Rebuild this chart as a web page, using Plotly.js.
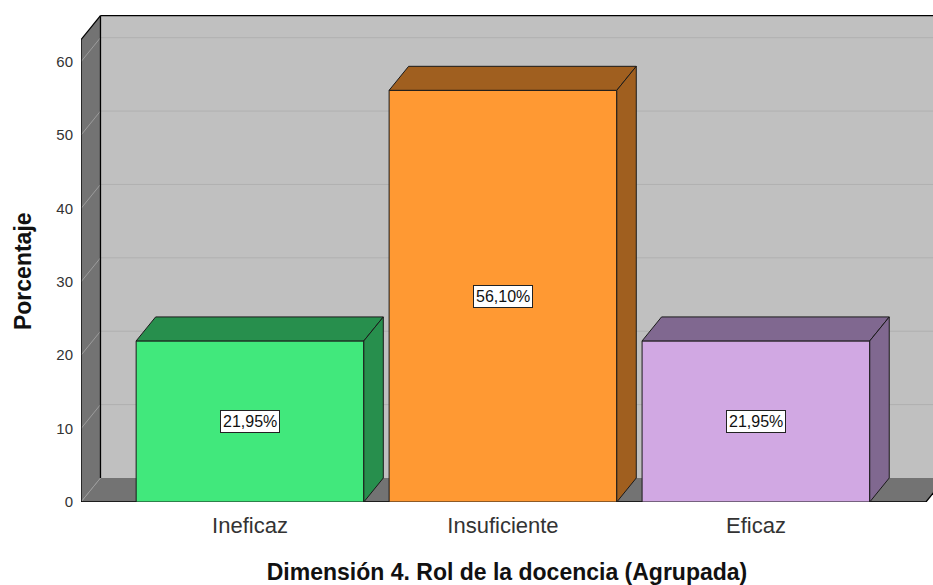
<!DOCTYPE html>
<html>
<head>
<meta charset="utf-8">
<script src="https://cdn.plot.ly/plotly-3.0.1.min.js"></script>
<style>html,body{margin:0;padding:0;background:#fff;}#chart{width:933px;height:585px;}</style>
</head>
<body>
<div id="chart"></div>
<script>
// ---- data ----
const categories = ['Ineficaz', 'Insuficiente', 'Eficaz'];
const values = [21.95, 56.10, 21.95];
const valueLabels = ['21,95%', '56,10%', '21,95%'];
const yTicks = [0, 10, 20, 30, 40, 50, 60];
const xTitle = 'Dimensión 4. Rol de la docencia (Agrupada)';
const yTitle = 'Porcentaje';

// ---- styles ----
const frontColors = ['#41E87C', '#FF9933', '#D1A8E3'];
const darkColors = ['#278F4D', '#A05F1F', '#806890'];
const FONT = 'Liberation Sans, Arial, sans-serif';
const barWidth = 0.9;
const dX = 0.077;   // depth offset in category units
const dY = 3.27;    // depth offset in value units
const xLo = -0.668, xHi = 2.70;      // x axis range
const frontRight = 2.672;            // right end of front floor edge
const wallTop = 66.27;               // top of back wall (value units)
const yMax = 66.5;
const wallColor = '#C0C0C0', sideColor = '#737373';
const gridBack = '#B0B0B0', gridSide = '#9C9C9C';

const shapes = [];
function poly(pts, fill, lineColor, lineWidth, layer) {
  const d = 'M ' + pts.map(p => p[0] + ',' + p[1]).join(' L ') + ' Z';
  shapes.push({type: 'path', xref: 'x', yref: 'y', path: d, fillcolor: fill,
    line: {color: lineColor, width: lineWidth}, layer: layer});
}
function seg(x0, y0, x1, y1, color, width, layer) {
  shapes.push({type: 'line', xref: 'x', yref: 'y', x0: x0, y0: y0, x1: x1, y1: y1,
    line: {color: color, width: width}, layer: layer});
}

// back wall
poly([[xLo + dX, dY], [xLo + dX, wallTop], [3.2, wallTop], [3.2, dY]], wallColor, 'rgba(0,0,0,0)', 0, 'below');
// floor
poly([[xLo, 0], [xLo + dX, dY], [frontRight + dX, dY], [frontRight, 0]], sideColor, 'rgba(0,0,0,0)', 0, 'below');
// left wall
poly([[xLo, 0], [xLo + dX, dY], [xLo + dX, wallTop], [xLo, wallTop - dY]], sideColor, 'rgba(0,0,0,0)', 0, 'below');
// grid lines
yTicks.forEach(t => {
  seg(xLo, t, xLo + dX, t + dY, gridSide, 1, 'below');
  if (t > 0) seg(xLo + dX, t + dY, 3.2, t + dY, gridBack, 1, 'below');
});
// wall edges
seg(xLo, 0, xLo, wallTop - dY, '#000', 1.3, 'below');
seg(xLo, wallTop - dY, xLo + dX, wallTop, '#000', 1.3, 'below');
seg(xLo + dX, dY, xLo + dX, wallTop, '#000', 1.3, 'below');
seg(xLo + dX, wallTop, 3.2, wallTop, '#000', 1.3, 'below');
seg(xLo, 0, frontRight, 0, '#000', 1.3, 'below');
seg(frontRight, 0, frontRight + dX, dY, '#000', 1.3, 'below');

// 3D faces of bars
values.forEach((v, i) => {
  const l = i - barWidth / 2, r = i + barWidth / 2;
  poly([[l, v], [l + dX, v + dY], [r + dX, v + dY], [r, v]], darkColors[i], '#1a1a1a', 1, 'above');
  poly([[r, 0], [r + dX, dY], [r + dX, v + dY], [r, v]], darkColors[i], '#1a1a1a', 1, 'above');
});

const annotations = values.map((v, i) => ({
  x: i, y: v / 2, xref: 'x', yref: 'y', text: valueLabels[i], showarrow: false,
  font: {family: FONT, size: 16, color: '#111'}, bgcolor: '#fff',
  bordercolor: '#222', borderwidth: 1, borderpad: 2
}));
// y axis title (placed as annotation to match the original's position)
annotations.push({
  x: -0.068, y: 0.4734, xref: 'paper', yref: 'paper', text: '<b>' + yTitle + '</b>',
  textangle: -90, showarrow: false, xanchor: 'center', yanchor: 'middle',
  font: {family: FONT, size: 23, color: '#111'}
});

const trace = {
  type: 'bar', x: categories, y: values, width: barWidth,
  marker: {color: frontColors, line: {color: '#1a1a1a', width: 1}},
  hoverinfo: 'skip'
};

const layout = {
  width: 933, height: 585,
  margin: {l: 81, r: 0, t: 14, b: 83},
  paper_bgcolor: '#fff', plot_bgcolor: '#fff',
  showlegend: false,
  font: {family: FONT, color: '#222'},
  xaxis: {
    type: 'category', range: [xLo, xHi], showgrid: false, zeroline: false,
    showline: false, ticks: '', ticklabelstandoff: 8,
    tickfont: {family: FONT, size: 22, color: '#333'},
    title: {text: xTitle, font: {family: FONT, size: 23, color: '#111', weight: 'bold'}, standoff: 26}
  },
  yaxis: {
    range: [0, yMax], tickvals: yTicks, showgrid: false, zeroline: false,
    showline: false, ticks: '', ticklabelstandoff: 7,
    tickfont: {family: FONT, size: 15, color: '#333'}
  },
  shapes: shapes,
  annotations: annotations
};

Plotly.newPlot('chart', [trace], layout, {displayModeBar: false, staticPlot: true});
</script>
</body>
</html>
